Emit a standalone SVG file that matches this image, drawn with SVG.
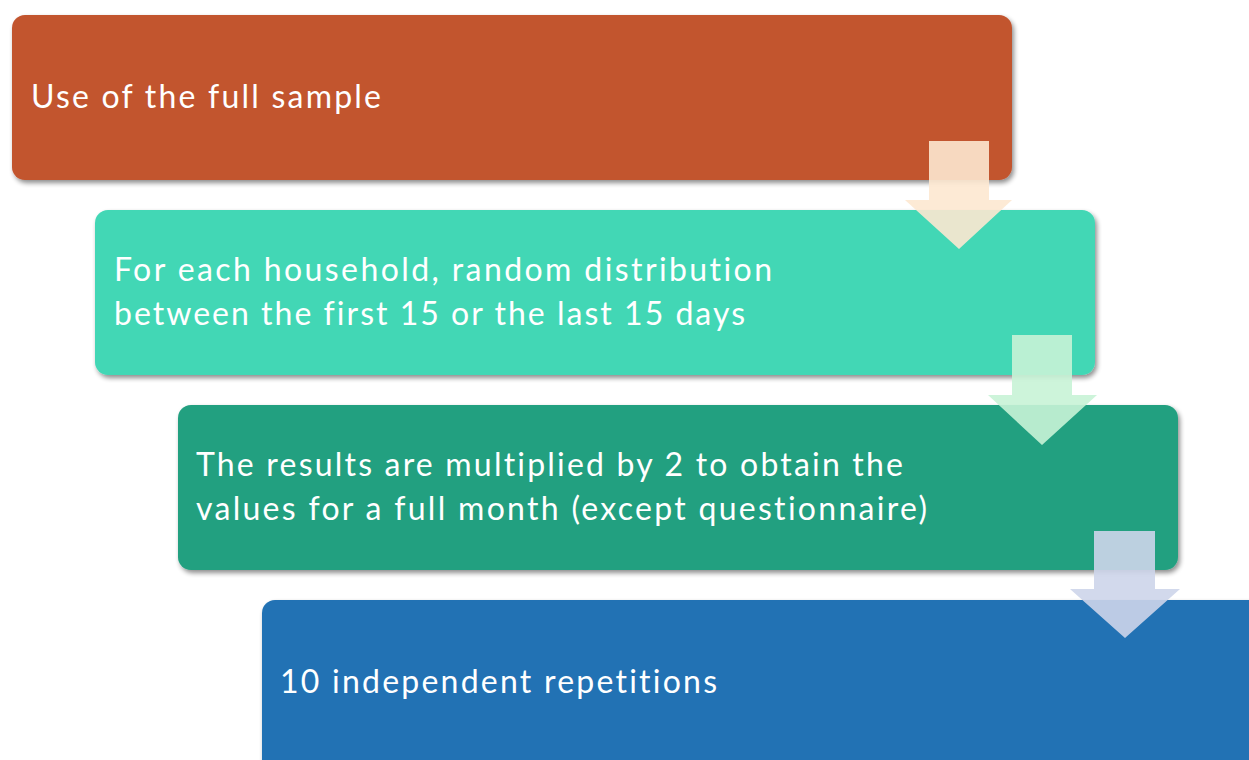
<svg xmlns="http://www.w3.org/2000/svg" width="1249" height="760" viewBox="0 0 1249 760">
<defs>
<filter id="sh" x="-5%" y="-10%" width="110%" height="125%">
<feGaussianBlur in="SourceAlpha" stdDeviation="2.5"/>
<feOffset dx="2" dy="3" result="b"/>
<feComponentTransfer><feFuncA type="linear" slope="0.45"/></feComponentTransfer>
<feMerge><feMergeNode/><feMergeNode in="SourceGraphic"/></feMerge>
</filter>
<style>
.t{font-family:"Lato","Open Sans","Liberation Sans",sans-serif;font-size:32px;fill:#FFFFFF;font-variant-ligatures:none;font-feature-settings:"liga" 0,"clig" 0}
.a{opacity:0.9}
</style>
</defs>
<rect width="1249" height="760" fill="#FFFFFF"/>
<g id="node1"><rect x="12" y="15" width="1000" height="165" rx="13" fill="#C2542E" filter="url(#sh)"/><text class="t" x="31" y="108" textLength="350" lengthAdjust="spacing">Use of the full sample</text></g>
<g id="node2"><rect x="95" y="210" width="1000" height="165" rx="13" fill="#43D7B5" filter="url(#sh)"/><text class="t" x="114" y="281" textLength="658" lengthAdjust="spacing">For each household, random distribution</text><text class="t" x="114" y="325" textLength="631" lengthAdjust="spacing">between the first 15 or the last 15 days</text></g>
<g id="node3"><rect x="178" y="405" width="1000" height="165" rx="13" fill="#23A080" filter="url(#sh)"/><text class="t" x="196" y="476" textLength="707" lengthAdjust="spacing">The results are multiplied by 2 to obtain the</text><text class="t" x="196" y="520" textLength="731" lengthAdjust="spacing">values for a full month (except questionnaire)</text></g>
<g id="node4"><rect x="262" y="600" width="1010" height="175" rx="13" fill="#2172B4" filter="url(#sh)"/><text class="t" x="280" y="693" textLength="437" lengthAdjust="spacing">10 independent repetitions</text></g>
<g id="connectors">
<polygon class="a" points="929,141 989,141 989,200 1012,200 959,249 905,200 929,200" fill="#FDE8D0"/>
<polygon class="a" points="1012,335 1072,335 1072,395 1097,395 1042,445 988,395 1012,395" fill="#C8F3D6"/>
<polygon class="a" points="1094,531 1155,531 1155,589 1180,589 1125,638 1070,589 1094,589" fill="#CDD5EA"/>
</g>
</svg>
